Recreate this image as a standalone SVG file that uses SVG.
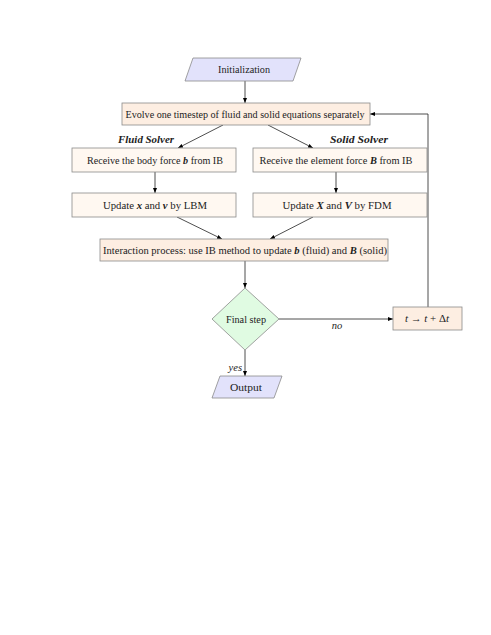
<svg xmlns="http://www.w3.org/2000/svg" width="491" height="635" viewBox="0 0 491 635">
<defs>
<marker id="ah" viewBox="0 0 10 10" refX="10" refY="5" markerWidth="5" markerHeight="5" orient="auto" markerUnits="userSpaceOnUse">
<path d="M0,1 L10,5 L0,9 z" fill="#000"/>
</marker>
<style>
.io{fill:#e2e2fb;stroke:#8a8a8a;stroke-width:0.8}
.pb{fill:#fdeee2;stroke:#8a8a8a;stroke-width:0.8}
.lb{fill:#fff8f1;stroke:#8a8a8a;stroke-width:0.8}
.dm{fill:#e0fbe2;stroke:#8a8a8a;stroke-width:0.8}
text{font-family:"Liberation Serif","DejaVu Serif",serif;font-size:10.5px;fill:#222;text-anchor:middle}
.m{font-weight:bold;font-style:italic}
.it{font-style:italic}
.c line,.c path{stroke:#222;stroke-width:0.8;fill:none;marker-end:url(#ah)}
</style>
</defs>
<rect width="491" height="635" fill="#fff"/>
<g class="c" id="connectors">
<line x1="245" y1="81" x2="245" y2="103"/>
<line x1="223" y1="125" x2="178" y2="148"/>
<line x1="268" y1="125" x2="313" y2="148"/>
<line x1="155" y1="172" x2="155" y2="193"/>
<line x1="336" y1="172" x2="336" y2="193"/>
<line x1="177" y1="217" x2="222" y2="239"/>
<line x1="313" y1="217" x2="270" y2="239"/>
<line x1="245" y1="261" x2="245" y2="288"/>
<line x1="279" y1="319" x2="393" y2="319"/>
<line x1="245" y1="350" x2="245" y2="376"/>
<path d="M428,307 L428,114 L370,114"/>
</g>
<g id="init"><polygon class="io" points="193,58 301,58 293,81 185,81"/><text x="244" y="73" textLength="52" lengthAdjust="spacingAndGlyphs">Initialization</text></g>
<g id="evolve"><rect class="pb" x="122" y="103" width="248" height="22"/><text x="245" y="117.5" textLength="239" lengthAdjust="spacingAndGlyphs">Evolve one timestep of fluid and solid equations separately</text></g>
<g id="fluidlabel"><text class="m" x="146" y="143" textLength="56" lengthAdjust="spacingAndGlyphs">Fluid Solver</text></g>
<g id="solidlabel"><text class="m" x="359" y="143" textLength="58" lengthAdjust="spacingAndGlyphs">Solid Solver</text></g>
<g id="recvb"><rect class="lb" x="72" y="148" width="164" height="24"/><text x="155" y="163.5" textLength="136" lengthAdjust="spacingAndGlyphs">Receive the body force <tspan class="m">b</tspan> from IB</text></g>
<g id="recvB"><rect class="lb" x="253" y="148" width="174" height="24"/><text x="336" y="163.5" textLength="153" lengthAdjust="spacingAndGlyphs">Receive the element force <tspan class="m">B</tspan> from IB</text></g>
<g id="updlbm"><rect class="lb" x="72" y="193" width="164" height="24"/><text x="155" y="208.5" textLength="104" lengthAdjust="spacingAndGlyphs">Update <tspan class="m">x</tspan> and <tspan class="m">v</tspan> by LBM</text></g>
<g id="updfdm"><rect class="lb" x="253" y="193" width="174" height="24"/><text x="337" y="208.5" textLength="109" lengthAdjust="spacingAndGlyphs">Update <tspan class="m">X</tspan> and <tspan class="m">V</tspan> by FDM</text></g>
<g id="interact"><rect class="pb" x="100" y="239" width="288" height="22"/><text x="245" y="253.5" textLength="284" lengthAdjust="spacingAndGlyphs">Interaction process: use IB method to update <tspan class="m">b</tspan> (fluid) and <tspan class="m">B</tspan> (solid)</text></g>
<g id="final"><polygon class="dm" points="245,288 279,319 245,350 212,319"/><text x="246" y="322.5" textLength="40" lengthAdjust="spacingAndGlyphs">Final step</text></g>
<g id="tstep"><rect class="pb" x="393" y="307" width="69" height="23"/><text x="427" y="322" textLength="44" lengthAdjust="spacingAndGlyphs"><tspan class="it">t</tspan> → <tspan class="it">t</tspan> + Δ<tspan class="it">t</tspan></text></g>
<g id="nolabel"><text class="it" x="337" y="329">no</text></g>
<g id="yeslabel"><text class="it" x="242" y="371" style="text-anchor:end">yes</text></g>
<g id="output"><polygon class="io" points="220,376 282,376 274,398 212,398"/><text x="246" y="391" textLength="32" lengthAdjust="spacingAndGlyphs">Output</text></g>
</svg>
